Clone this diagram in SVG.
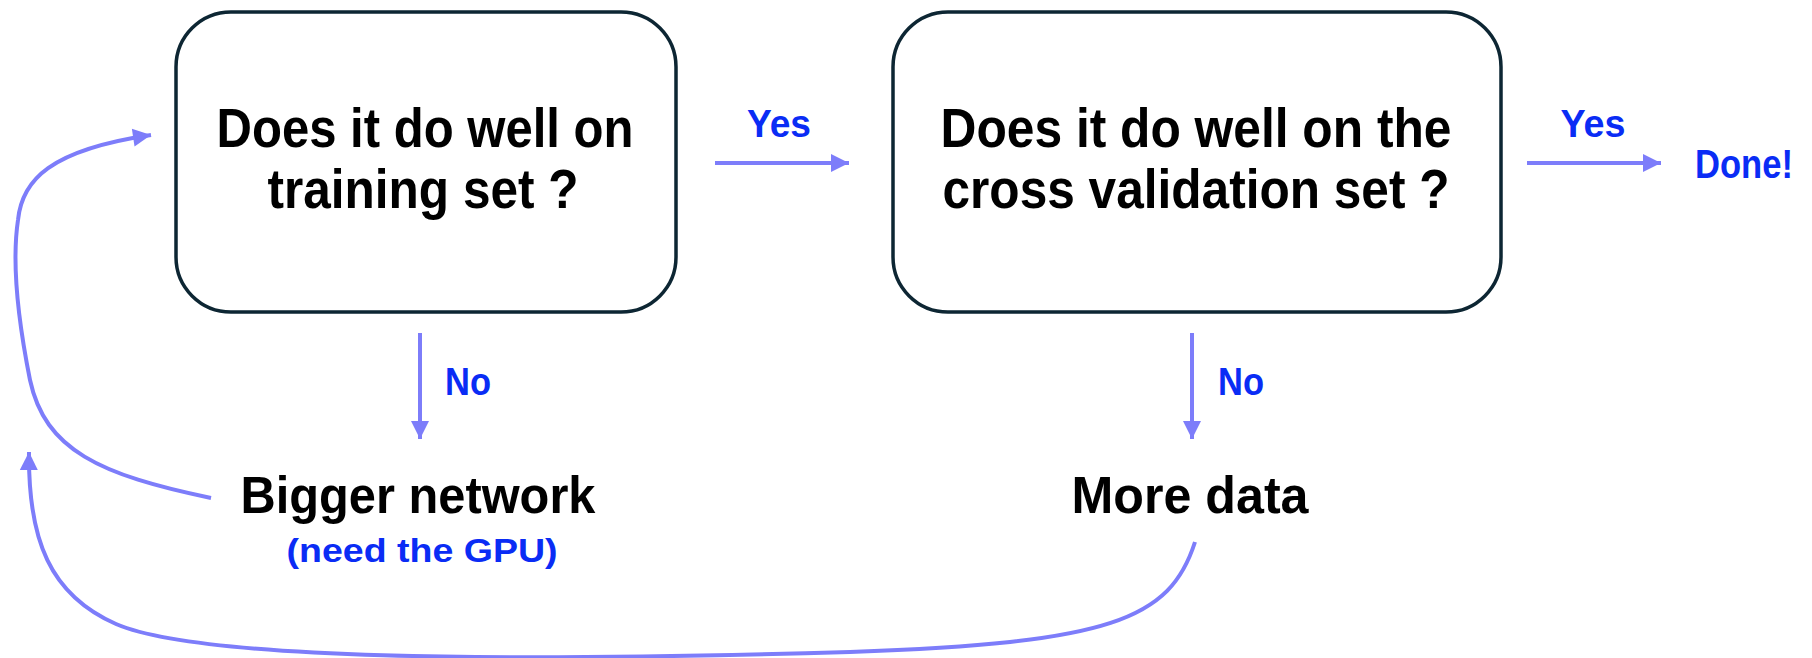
<svg xmlns="http://www.w3.org/2000/svg" width="1812" height="658" viewBox="0 0 1812 658">
<style>
.box{fill:#fff;stroke:#0d2633;stroke-width:3.5}
.t{font-family:"Liberation Sans",Arial,sans-serif;font-weight:bold;fill:#000;text-anchor:middle}
.b{font-family:"Liberation Sans",Arial,sans-serif;font-weight:bold;fill:#0a2cf5;text-anchor:middle}
.c{fill:none;stroke:#7d7dfa;stroke-width:4}
</style>
<defs>
<marker id="ah" markerUnits="userSpaceOnUse" markerWidth="22" markerHeight="22" viewBox="0 0 22 22" refX="20" refY="11" orient="auto">
<polygon points="2,2 20,11 2,20" fill="#7d7dfa"/>
</marker>
</defs>
<rect width="1812" height="658" fill="#fff"/>
<g id="node-train">
<rect class="box" x="176" y="12" width="500" height="300" rx="55"/>
<text class="t" x="425" y="147" font-size="55" textLength="417" lengthAdjust="spacingAndGlyphs">Does it do well on</text>
<text class="t" x="423" y="208" font-size="55" textLength="311" lengthAdjust="spacingAndGlyphs">training set ?</text>
</g>
<g id="node-cv">
<rect class="box" x="893" y="12" width="608" height="300" rx="55"/>
<text class="t" x="1196" y="147" font-size="55" textLength="511" lengthAdjust="spacingAndGlyphs">Does it do well on the</text>
<text class="t" x="1196" y="208" font-size="55" textLength="507" lengthAdjust="spacingAndGlyphs">cross validation set ?</text>
</g>
<g id="node-done">
<text class="b" x="1744" y="178" font-size="40" textLength="98" lengthAdjust="spacingAndGlyphs">Done!</text>
</g>
<g id="node-bigger">
<text class="t" x="418" y="513" font-size="52" textLength="355" lengthAdjust="spacingAndGlyphs">Bigger network</text>
<text class="b" x="422" y="562" font-size="34" textLength="271" lengthAdjust="spacingAndGlyphs">(need the GPU)</text>
</g>
<g id="node-more">
<text class="t" x="1190" y="513" font-size="52" textLength="237" lengthAdjust="spacingAndGlyphs">More data</text>
</g>
<g id="connectors">
<line class="c" x1="715" y1="163" x2="849" y2="163" marker-end="url(#ah)"/>
<text class="b" x="779" y="137" font-size="39" textLength="64" lengthAdjust="spacingAndGlyphs">Yes</text>
<line class="c" x1="1527" y1="163" x2="1661" y2="163" marker-end="url(#ah)"/>
<text class="b" x="1593" y="137" font-size="39" textLength="65" lengthAdjust="spacingAndGlyphs">Yes</text>
<line class="c" x1="420" y1="333" x2="420" y2="439" marker-end="url(#ah)"/>
<text class="b" x="468" y="395" font-size="39" textLength="46" lengthAdjust="spacingAndGlyphs">No</text>
<line class="c" x1="1192" y1="333" x2="1192" y2="439" marker-end="url(#ah)"/>
<text class="b" x="1241" y="395" font-size="39" textLength="46" lengthAdjust="spacingAndGlyphs">No</text>
<path class="c" d="M211,498 C100,475 45,450 30,380 C18,320 12,260 18,220 C22,180 50,150 151,135" marker-end="url(#ah)"/>
<path class="c" d="M1195,542 C1170,620 1110,643 850,652 C500,662 200,660 116,624 C50,595 28,540 29,452" marker-end="url(#ah)"/>
</g>
</svg>
